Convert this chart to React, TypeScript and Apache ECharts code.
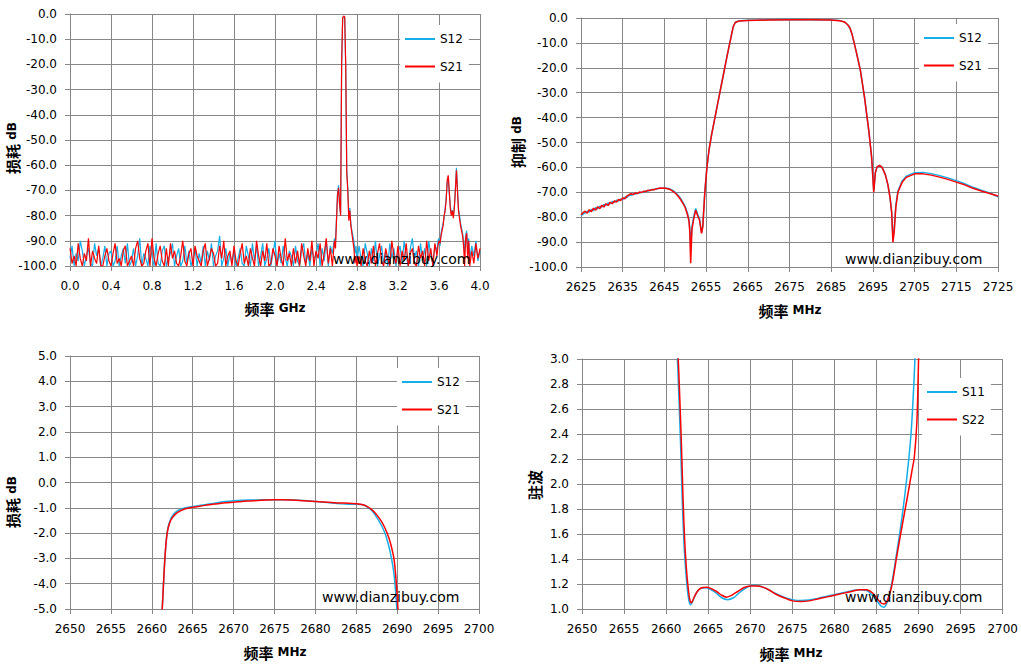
import React, { useEffect, useRef } from "react";
import * as echarts from "echarts";

// ---------- Panel 1: wideband 0–4 GHz (dB) ----------
const p1SegStart = [0, 2.59, 2.82, 3.59, 3.92];
const p1SegStep = [0.02, 0.01, 0.02, 0.01, 0.02];

const p1S21A = [
  -93, -99, -96, -100, -91, -97, -100, -95, -98, -89,
  -100, -94, -97, -99, -92, -100, -100, -96, -93, -98,
  -100, -95, -91, -99, -97, -100, -94, -92, -100, -98,
  -96, -100, -93, -90, -97, -100, -99, -94, -91, -100,
  -89, -97, -100, -95, -92, -98, -100, -93, -100, -91,
  -97, -94, -99, -100, -96, -90, -98, -100, -95, -93,
  -100, -92, -96, -98, -100, -94, -91, -100, -97, -93,
  -95, -100, -99, -92, -97, -90, -100, -96, -94, -100,
  -92, -98, -100, -95, -91, -99, -96, -100, -93, -97,
  -100, -90, -96, -100, -94, -98, -91, -100, -99, -93,
  -96, -100, -92, -97, -100, -89, -98, -95, -100, -93,
  -99, -94, -100, -91, -96, -100, -93, -98, -90, -100,
  -94, -97, -91, -100, -95, -89, -99, -93, -100, -90,
];
const p1S21B = [
  -93, -82, -72, -69, -75, -80, -20, -1.5, -0.8, -1.2,
  -20, -63, -70, -82, -78, -84, -87, -90, -93, -99, -96, -100,
];
const p1S21C = [
  -96, -100, -93, -98, -100, -94, -99, -92, -100, -95,
  -91, -98, -100, -93, -97, -100, -90, -96, -99, -92,
  -100, -94, -98, -91, -100, -95, -93, -99, -100, -92,
  -97, -94, -100, -90, -98, -93, -100, -91, -96,
];
const p1S21D = [
  -92, -90, -91, -88, -86, -84, -80, -78, -74, -66,
  -64, -70, -77, -80, -78, -81, -77, -70, -62, -70,
  -78, -81, -84, -86, -88, -92, -100, -89, -87, -97,
  -90, -100,
];
const p1S21E = [-94, -99, -91, -97, -93];

const p1S12A = [
  -97, -92, -100, -95, -98, -90, -94, -100, -96, -93,
  -99, -100, -91, -96, -93, -100, -97, -92, -100, -95,
  -94, -100, -98, -92, -100, -96, -93, -99, -91, -100,
  -98, -93, -100, -96, -89, -100, -95, -97, -100, -92,
  -96, -100, -91, -99, -100, -94, -92, -100, -97, -95,
  -91, -100, -96, -93, -100, -98, -92, -99, -94, -100,
  -97, -93, -100, -95, -99, -92, -100, -94, -98, -91,
  -100, -96, -94, -88, -100, -97, -93, -100, -95, -99,
  -94, -100, -97, -93, -99, -100, -92, -96, -100, -91,
  -98, -92, -100, -96, -91, -100, -97, -93, -100, -95,
  -90, -100, -95, -99, -92, -97, -100, -94, -96, -100,
  -92, -98, -100, -94, -91, -99, -95, -100, -93, -97,
  -96, -91, -100, -93, -98, -90, -100, -92, -95, -89,
];
const p1S12B = [
  -90, -81, -71, -68, -76, -79, -21, -1.8, -0.9, -1.4,
  -22, -62, -69, -79, -77, -83, -86, -88, -90, -95, -92, -98,
];
const p1S12C = [
  -92, -97, -100, -91, -95, -100, -93, -98, -90, -100,
  -96, -92, -99, -94, -100, -91, -97, -93, -100, -95,
  -92, -99, -90, -96, -100, -93, -89, -97, -94, -100,
  -91, -98, -93, -100, -90, -96, -99, -92, -94,
];
const p1S12D = [
  -90, -89, -92, -87, -85, -83, -81, -77, -73, -67,
  -65, -71, -76, -79, -78, -80, -76, -69, -61, -69,
  -77, -80, -83, -85, -87, -90, -95, -88, -86, -94,
  -89, -97,
];
const p1S12E = [-92, -96, -90, -98, -94];

// ---------- Panel 2: 2625–2725 MHz rejection (dB) ----------
const p2LeftStart = 2625;
const p2LeftStep = 0.5;
const p2S21Left = [
  -79.0, -78.2, -77.6, -78.4, -77.0, -77.8, -76.4, -77.2, -75.8, -76.6,
  -75.2, -75.9, -74.6, -75.3, -74.0, -74.6, -73.5, -73.9, -72.9, -73.3,
  -72.3, -72.6, -71.5, -71.0, -70.6, -70.9, -70.3, -70.5, -69.9, -70.1,
  -69.6, -69.7, -69.2, -69.3, -68.9, -69.0, -68.6, -68.5, -68.3, -68.4,
  -68.3, -68.5, -68.7, -69.0, -69.5, -70.2, -71.0, -72.0, -73.2, -74.6,
];
const p2S12Left = [
  -79.4, -78.8, -78.3, -77.6, -77.9, -76.9, -77.3, -76.2, -76.6, -75.6,
  -75.9, -74.9, -75.2, -74.3, -74.6, -73.7, -74.0, -73.2, -73.5, -72.7,
  -72.9, -72.0, -72.1, -71.3, -71.2, -70.8, -70.7, -70.4, -70.3, -70.0,
  -69.9, -69.5, -69.5, -69.1, -69.1, -68.8, -68.7, -68.5, -68.4, -68.4,
  -68.3, -68.4, -68.5, -68.8, -69.2, -69.9, -70.7, -71.6, -72.8, -74.2,
];
const p2Freq = [
  2650, 2650.5, 2650.9, 2651.1, 2651.3, 2651.6, 2652, 2652.5, 2653, 2653.4,
  2653.9, 2654.2, 2654.7, 2655.2, 2655.7, 2656.3, 2657, 2658, 2659, 2660,
  2661, 2661.5, 2662, 2662.5, 2663, 2665, 2670, 2675, 2680, 2685,
  2687, 2688, 2688.5, 2689, 2689.5, 2690, 2690.5, 2691, 2692, 2693,
  2694, 2694.7, 2695.2, 2695.6, 2696, 2696.6, 2697.2, 2698, 2698.6, 2699.1,
  2699.5, 2699.8, 2700.1, 2700.5, 2701, 2702, 2703, 2705, 2707, 2709,
  2711, 2713, 2715, 2717, 2719, 2721, 2723, 2725,
];
const p2S21 = [
  -76.2, -78.8, -81.5, -86.0, -98.5, -85.0, -81.0, -77.2, -79.5, -81.0,
  -86.5, -84.0, -70.0, -60.0, -53.0, -47.0, -41.0, -32.5, -24.0, -15.5,
  -7.5, -3.5, -1.8, -1.4, -1.2, -1.0, -0.8, -0.7, -0.75, -0.85,
  -1.1, -1.5, -2.0, -2.8, -4.0, -6.5, -10.0, -13.5, -21.0, -32.0,
  -45.0, -56.0, -70.0, -62.0, -59.8, -59.2, -60.0, -63.0, -67.0, -72.0,
  -78.0, -90.0, -86.0, -76.0, -70.0, -66.0, -64.0, -62.6, -62.6, -63.1,
  -63.9, -64.8, -65.9, -67.0, -68.4, -69.5, -70.5, -71.5,
];
const p2S12 = [
  -75.8, -78.2, -81.0, -85.0, -92.0, -84.0, -80.0, -76.5, -78.8, -80.5,
  -86.0, -83.5, -69.5, -60.0, -53.0, -47.0, -41.0, -32.5, -24.0, -15.5,
  -7.5, -3.5, -1.8, -1.4, -1.15, -0.95, -0.75, -0.65, -0.7, -0.8,
  -1.05, -1.45, -2.0, -2.8, -4.0, -6.5, -10.0, -13.5, -21.0, -32.0,
  -45.0, -56.0, -69.5, -62.0, -59.8, -59.2, -60.0, -63.0, -67.0, -72.0,
  -78.0, -88.0, -85.0, -75.0, -69.5, -65.5, -63.5, -62.1, -62.0, -62.5,
  -63.3, -64.2, -65.3, -66.5, -68.0, -69.2, -70.3, -71.8,
];

// ---------- Panel 3: passband insertion loss (dB) ----------
const p3Freq = [
  2661.2, 2661.4, 2661.6, 2661.8, 2662, 2662.3, 2662.6, 2663, 2663.5, 2664,
  2665, 2666, 2667, 2668, 2669, 2670, 2671, 2672, 2673, 2674,
  2675, 2676, 2677, 2678, 2679, 2680, 2681, 2682, 2683, 2684,
  2685, 2685.5, 2686, 2686.5, 2687, 2687.5, 2688, 2688.5, 2689, 2689.3,
  2689.6, 2689.8, 2690, 2690.2,
];
const p3S21 = [
  -5.5, -4.2, -3.0, -2.2, -1.8, -1.5, -1.35, -1.22, -1.12, -1.05,
  -0.98, -0.93, -0.88, -0.84, -0.8, -0.78, -0.75, -0.73, -0.71, -0.69,
  -0.68, -0.68, -0.69, -0.71, -0.73, -0.75, -0.77, -0.79, -0.81, -0.82,
  -0.84, -0.86, -0.9, -0.98, -1.1, -1.28, -1.5, -1.8, -2.2, -2.55,
  -3.0, -3.6, -4.5, -5.6,
];
const p3S12 = [
  -5.5, -4.2, -3.0, -2.2, -1.75, -1.45, -1.28, -1.15, -1.07, -1.01,
  -0.95, -0.9, -0.85, -0.8, -0.75, -0.72, -0.7, -0.69, -0.69, -0.68,
  -0.68, -0.68, -0.69, -0.7, -0.72, -0.75, -0.78, -0.81, -0.84, -0.86,
  -0.86, -0.87, -0.9, -1.0, -1.15, -1.38, -1.65, -2.0, -2.55, -3.0,
  -3.6, -4.3, -5.2, -6.0,
];

// ---------- Panel 4: VSWR ----------
const p4S22Freq = [
  2661.3, 2661.5, 2661.8, 2662.0, 2662.2, 2662.4, 2662.6, 2662.8, 2663.0, 2663.3,
  2663.7, 2664.2, 2664.8, 2665.3, 2666.0, 2666.6, 2667.2, 2667.8, 2668.5, 2669.2,
  2670.0, 2670.8, 2671.5, 2672.3, 2673.0, 2674.0, 2675.0, 2676.0, 2677.0, 2678.0,
  2679.0, 2680.0, 2681.0, 2682.0, 2683.0, 2683.8, 2684.5, 2685.0, 2685.5, 2685.9,
  2686.3, 2686.8, 2687.4, 2688.0, 2688.6, 2689.2, 2689.5, 2689.8, 2690.0, 2690.1,
];
const p4S22 = [
  3.2, 2.9, 2.35, 1.9, 1.55, 1.33, 1.18, 1.08, 1.05, 1.09,
  1.14, 1.17, 1.175, 1.165, 1.14, 1.11, 1.095, 1.11, 1.14, 1.17,
  1.185, 1.185, 1.175, 1.15, 1.12, 1.09, 1.065, 1.06, 1.065, 1.08,
  1.095, 1.11, 1.125, 1.14, 1.155, 1.155, 1.13, 1.09, 1.05, 1.04,
  1.07, 1.18, 1.42, 1.65, 1.87, 2.1, 2.22, 2.5, 3.0, 3.3,
];
const p4S11Freq = [
  2661.2, 2661.4, 2661.7, 2661.9, 2662.1, 2662.3, 2662.5, 2662.7, 2662.9, 2663.2,
  2663.6, 2664.1, 2664.7, 2665.2, 2665.9, 2666.6, 2667.3, 2668.0, 2668.7, 2669.5,
  2670.3, 2671.1, 2672.0, 2673.0, 2674.0, 2675.0, 2676.0, 2677.0, 2678.0, 2679.0,
  2680.0, 2681.0, 2682.0, 2683.0, 2683.8, 2684.5, 2685.1, 2685.6, 2685.9, 2686.3,
  2686.8, 2687.4, 2688.0, 2688.6, 2689.1, 2689.4, 2689.6,
];
const p4S11 = [
  3.2, 2.9, 2.35, 1.9, 1.55, 1.33, 1.17, 1.07, 1.035, 1.07,
  1.13, 1.165, 1.17, 1.16, 1.13, 1.09, 1.075, 1.09, 1.13, 1.17,
  1.19, 1.185, 1.16, 1.125, 1.095, 1.075, 1.068, 1.072, 1.085, 1.1,
  1.115, 1.13, 1.145, 1.155, 1.15, 1.11, 1.06, 1.02, 1.015, 1.06,
  1.2, 1.45, 1.72, 2.05, 2.4, 2.75, 3.05,
];

const WATERMARK = "www.dianzibuy.com";
const CYAN = "#14aee8";
const RED = "#ff0000";
const GRID_COLOR = "#878787";

function segPairs(starts: number[], steps: number[], segs: number[][]) {
  const out: number[][] = [];
  segs.forEach((seg, k) => {
    seg.forEach((v, i) => out.push([+(starts[k] + i * steps[k]).toFixed(3), v]));
  });
  return out;
}
function zipPairs(xs: number[], ys: number[]) {
  const n = Math.min(xs.length, ys.length);
  const out: number[][] = [];
  for (let i = 0; i < n; i++) out.push([xs[i], ys[i]]);
  return out;
}

export default function App() {
  const ref = useRef<HTMLDivElement>(null);
  useEffect(() => {
    document.body.style.margin = "0";
    if (!ref.current) return;
    const chart = echarts.init(ref.current, null, { renderer: "svg" });

    const p1S21 = segPairs(p1SegStart, p1SegStep, [p1S21A, p1S21B, p1S21C, p1S21D, p1S21E]);
    const p1S12 = segPairs(p1SegStart, p1SegStep, [p1S12A, p1S12B, p1S12C, p1S12D, p1S12E]);
    const p2S21All = [
      ...p2S21Left.map((v, i) => [p2LeftStart + i * p2LeftStep, v]),
      ...zipPairs(p2Freq, p2S21),
    ];
    const p2S12All = [
      ...p2S12Left.map((v, i) => [p2LeftStart + i * p2LeftStep, v]),
      ...zipPairs(p2Freq, p2S12),
    ];

    const label = (fmt: (v: number) => string, margin: number) => ({
      color: "#000",
      fontFamily: "DejaVu Sans",
      fontSize: 12,
      margin,
      formatter: fmt,
    });
    const f1 = (v: number) => v.toFixed(1);
    const f0 = (v: number) => String(Math.round(v));
    const axisBase = {
      type: "value",
      axisLine: { show: true, onZero: false, lineStyle: { color: GRID_COLOR, width: 1 } },
      axisTick: { show: true, length: 5, lineStyle: { color: GRID_COLOR, width: 1 } },
      splitLine: { show: true, lineStyle: { color: GRID_COLOR, width: 1 } },
    };
    const xAx = (gi: number, min: number, max: number, interval: number, fmt: any) => ({
      ...axisBase, gridIndex: gi, min, max, interval, axisLabel: label(fmt, 14),
    });
    const yAx = (gi: number, min: number, max: number, interval: number, fmt: any) => ({
      ...axisBase, gridIndex: gi, min, max, interval, axisLabel: label(fmt, 13),
    });

    const line = (name: string, xi: number, data: number[][], color: string, width: number, smooth: any = false) => ({
      type: "line",
      name,
      xAxisIndex: xi,
      yAxisIndex: xi,
      data,
      symbol: "none",
      showSymbol: false,
      smooth,
      clip: true,
      silent: true,
      lineStyle: { color, width },
      itemStyle: { color },
    });

    const legend = (names: string[], left: number, top: number) => ({
      data: names,
      left,
      top,
      orient: "vertical",
      backgroundColor: "#fff",
      padding: [7, 6, 9, 5],
      itemGap: 13.5,
      itemWidth: 30,
      itemHeight: 2,
      itemTextGap: 3,
      icon: "rect",
      selectedMode: false,
      textStyle: { fontFamily: "DejaVu Sans", fontSize: 12, color: "#000", lineHeight: 14 },
    });

    const titleRich = (cjk: string, lat: string) => ({
      text: lat ? `{a|${cjk}}{b| ${lat}}` : `{a|${cjk}}`,
      rich: {
        a: { fontFamily: "Noto Sans CJK SC", fontWeight: "bold", fontSize: 15, fill: "#000" },
        b: { fontFamily: "DejaVu Sans", fontWeight: "bold", fontSize: 12, fill: "#000" },
      },
      fill: "#000",
      fontSize: 12,
      align: "center",
      verticalAlign: "middle",
      textAlign: "center",
      textVerticalAlign: "middle",
    });
    const xTitle = (x: number, y: number, cjk: string, lat: string) => ({
      type: "text", x, y, z: 100, style: titleRich(cjk, lat),
    });
    const yTitle = (x: number, y: number, cjk: string, lat: string) => ({
      type: "text", x, y, rotation: Math.PI / 2, z: 100, style: titleRich(cjk, lat),
    });
    const mark = (x: number, y: number) => ({
      type: "text", x, y, z: 100,
      style: {
        text: WATERMARK, fontFamily: "DejaVu Sans", fontSize: 14, fill: "#000",
        textAlign: "left", textVerticalAlign: "middle", align: "left", verticalAlign: "middle",
      },
    });

    chart.setOption({
      animation: false,
      backgroundColor: "#fff",
      grid: [
        { left: 70, top: 14, width: 410, height: 252 },
        { left: 581, top: 18, width: 417, height: 249 },
        { left: 70, top: 356, width: 409, height: 253 },
        { left: 582, top: 359, width: 421, height: 250 },
      ],
      xAxis: [
        xAx(0, 0, 4, 0.4, f1),
        xAx(1, 2625, 2725, 10, f0),
        xAx(2, 2650, 2700, 5, f0),
        xAx(3, 2650, 2700, 5, f0),
      ],
      yAxis: [
        yAx(0, -100, 0, 10, f1),
        yAx(1, -100, 0, 10, f1),
        yAx(2, -5, 5, 1, f1),
        yAx(3, 1, 3, 0.2, f1),
      ],
      legend: [
        legend(["S12", "S21"], 400, 25),
        legend(["S12", "S21"], 919, 24),
        legend(["S12", "S21"], 397, 368),
        legend(["S11", "S22"], 922, 378),
      ],
      series: [
        line("S12", 0, p1S12, CYAN, 1.2),
        line("S21", 0, p1S21, RED, 1.2),
        line("S12", 1, p2S12All, CYAN, 1.5),
        line("S21", 1, p2S21All, RED, 1.5),
        line("S12", 2, zipPairs(p3Freq, p3S12), CYAN, 1.5, 0.3),
        line("S21", 2, zipPairs(p3Freq, p3S21), RED, 1.5, 0.3),
        line("S11", 3, zipPairs(p4S11Freq, p4S11), CYAN, 1.5, 0.3),
        line("S22", 3, zipPairs(p4S22Freq, p4S22), RED, 1.5, 0.3),
      ],
      graphic: [
        mark(333, 259),
        mark(845, 259),
        mark(322, 597),
        mark(845, 597),
        xTitle(275, 308, "频率", "GHz"),
        yTitle(12, 148, "损耗", "dB"),
        xTitle(790, 310, "频率", "MHz"),
        yTitle(517, 142, "抑制", "dB"),
        xTitle(275, 652, "频率", "MHz"),
        yTitle(12, 502, "损耗", "dB"),
        xTitle(791, 653, "频率", "MHz"),
        yTitle(534, 485, "驻波", ""),
      ],
    });
    return () => chart.dispose();
  }, []);
  return <div ref={ref} style={{ width: 1021, height: 664 }} />;
}
